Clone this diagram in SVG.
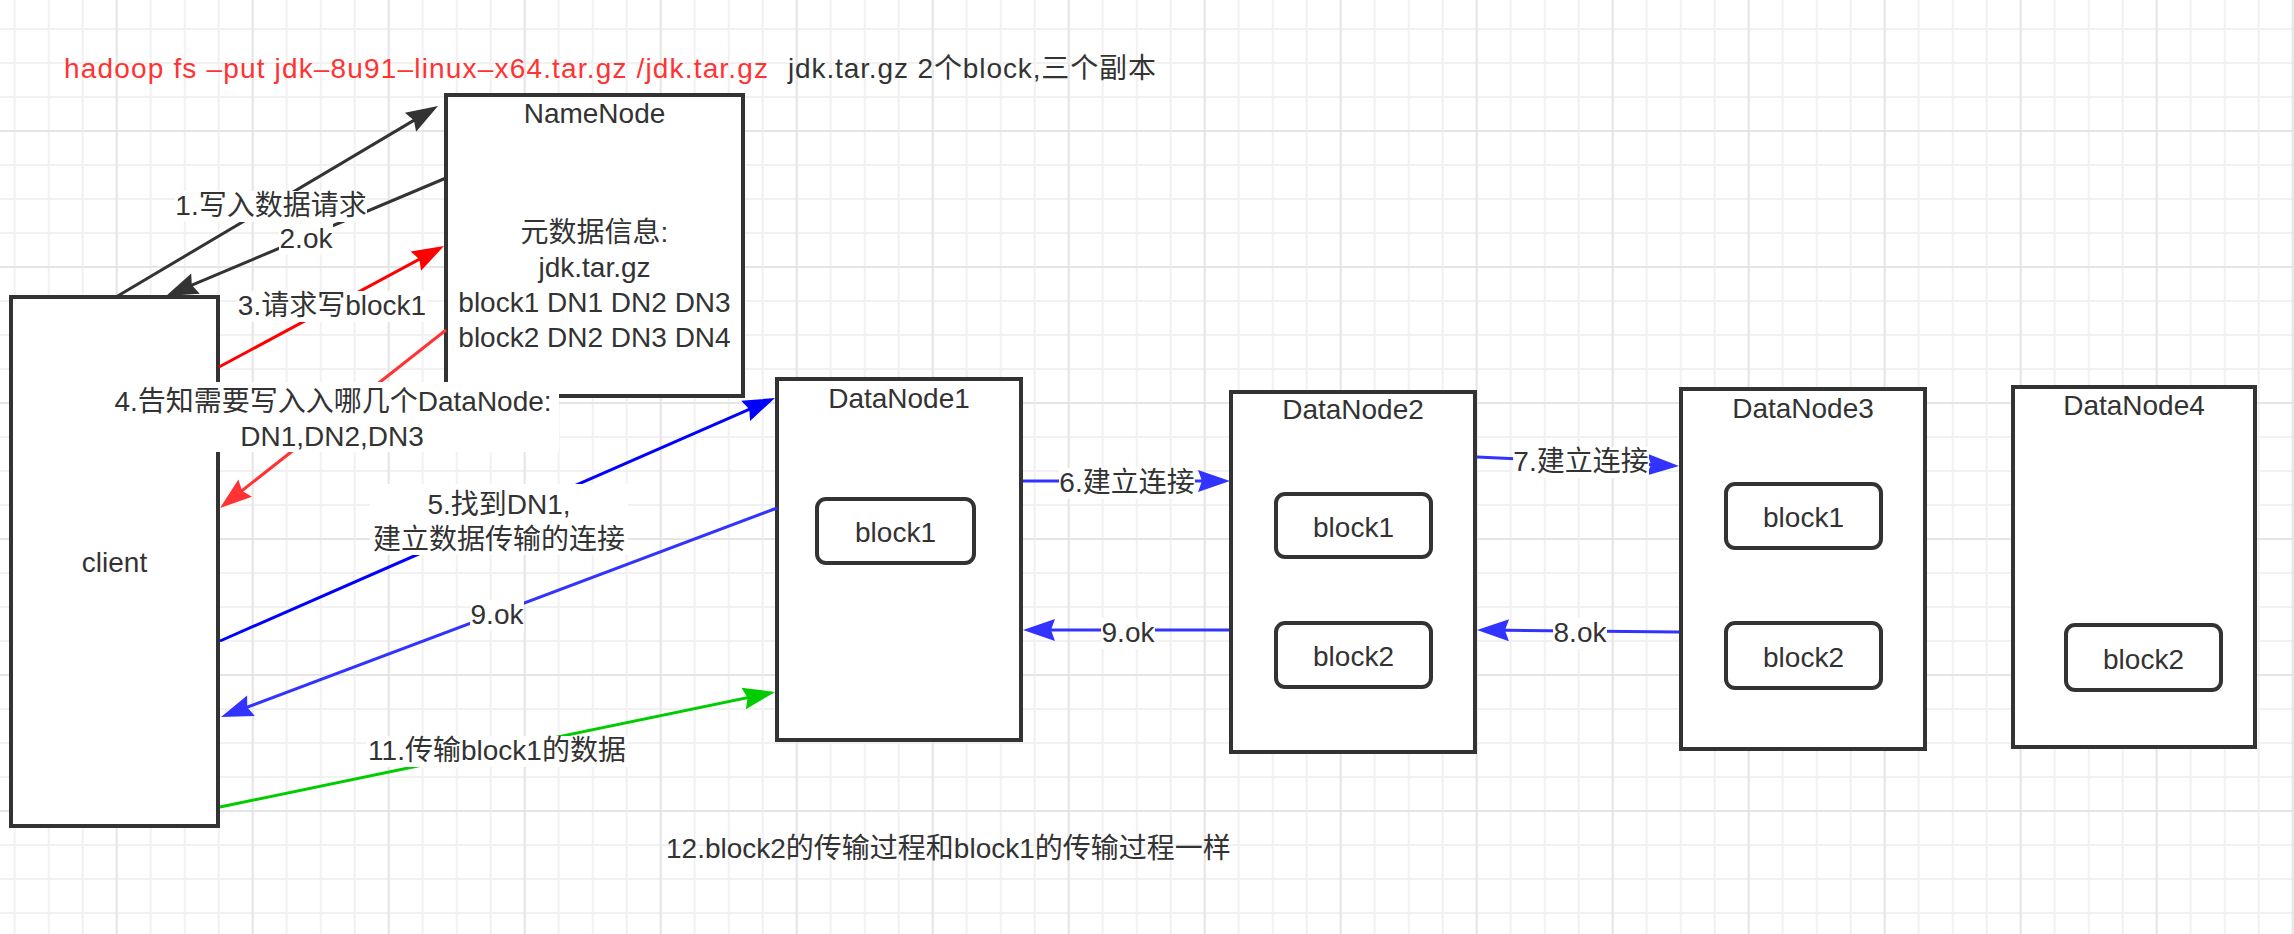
<svg xmlns="http://www.w3.org/2000/svg" width="2294" height="934" viewBox="0 0 2294 934">
<defs>
<style>
.node{fill:#fff;stroke:#333;stroke-width:4}
.blk{fill:#fff;stroke:#333;stroke-width:4}
.t{font-family:"Liberation Sans","Noto Sans CJK SC",sans-serif;font-size:28px;fill:#333;text-anchor:middle}
.ts{font-family:"Liberation Sans","Noto Sans CJK SC",sans-serif;font-size:28px;fill:#333}
.lbg{fill:#fff}
.e{fill:none;stroke-width:3}
</style>
<pattern id="minor" patternUnits="userSpaceOnUse" x="-2.3" y="12" width="34" height="34">
<path d="M17,0V34M0,17H34" stroke="#f1f1f1" stroke-width="2" fill="none"/>
</pattern>
<pattern id="major" patternUnits="userSpaceOnUse" x="48.7" y="63" width="136" height="136">
<path d="M68,0V136M0,68H136" stroke="#e6e6e6" stroke-width="2" fill="none"/>
</pattern>
<marker id="aK" markerUnits="userSpaceOnUse" viewBox="-24 -12 36 24" markerWidth="36" markerHeight="24" refX="0" refY="0" orient="auto"><path d="M10,0L-22,-11L-18,0L-22,11Z" fill="#333333"/></marker>
<marker id="aR" markerUnits="userSpaceOnUse" viewBox="-24 -12 36 24" markerWidth="36" markerHeight="24" refX="0" refY="0" orient="auto"><path d="M10,0L-22,-11L-18,0L-22,11Z" fill="#FF0000"/></marker>
<marker id="aR2" markerUnits="userSpaceOnUse" viewBox="-24 -12 36 24" markerWidth="36" markerHeight="24" refX="0" refY="0" orient="auto"><path d="M10,0L-22,-11L-18,0L-22,11Z" fill="#FF3333"/></marker>
<marker id="aB" markerUnits="userSpaceOnUse" viewBox="-24 -12 36 24" markerWidth="36" markerHeight="24" refX="0" refY="0" orient="auto"><path d="M10,0L-22,-11L-18,0L-22,11Z" fill="#0000FF"/></marker>
<marker id="aB2" markerUnits="userSpaceOnUse" viewBox="-24 -12 36 24" markerWidth="36" markerHeight="24" refX="0" refY="0" orient="auto"><path d="M10,0L-22,-11L-18,0L-22,11Z" fill="#3333FF"/></marker>
<marker id="aG" markerUnits="userSpaceOnUse" viewBox="-24 -12 36 24" markerWidth="36" markerHeight="24" refX="0" refY="0" orient="auto"><path d="M10,0L-22,-11L-18,0L-22,11Z" fill="#00CC00"/></marker>
</defs>
<rect width="2294" height="934" fill="#fff"/>
<rect width="2294" height="934" fill="url(#minor)"/>
<rect width="2294" height="934" fill="url(#major)"/>

<g id="title">
<text class="ts" x="64" y="78" style="fill:#FF3333" textLength="704" lengthAdjust="spacing">hadoop fs –put jdk–8u91–linux–x64.tar.gz /jdk.tar.gz</text>
<text class="ts" x="788" y="78" textLength="368" lengthAdjust="spacing">jdk.tar.gz 2个block,三个副本</text>
</g>

<g id="client">
<rect class="node" x="11" y="297" width="207" height="529"/>
<text class="t" x="114.5" y="572">client</text>
</g>

<g id="namenode">
<rect class="node" x="446" y="95" width="297" height="301"/>
<text class="t" x="594.5" y="123">NameNode</text>
<text class="t" x="594.5" y="242">元数据信息:</text>
<text class="t" x="594.5" y="277">jdk.tar.gz</text>
<text class="t" x="594.5" y="312">block1 DN1 DN2 DN3</text>
<text class="t" x="594.5" y="347">block2 DN2 DN3 DN4</text>
</g>

<g id="datanode1">
<rect class="node" x="777" y="379" width="244" height="361"/>
<text class="t" x="899" y="408">DataNode1</text>
<rect class="blk" x="817" y="499" width="157" height="64" rx="9"/>
<text class="t" x="895.5" y="542">block1</text>
</g>

<g id="datanode2">
<rect class="node" x="1231" y="392" width="244" height="360"/>
<text class="t" x="1353" y="419">DataNode2</text>
<rect class="blk" x="1276" y="494" width="155" height="63" rx="9"/>
<text class="t" x="1353.5" y="537">block1</text>
<rect class="blk" x="1276" y="623" width="155" height="64" rx="9"/>
<text class="t" x="1353.5" y="666">block2</text>
</g>

<g id="datanode3">
<rect class="node" x="1681" y="389" width="244" height="360"/>
<text class="t" x="1803" y="418">DataNode3</text>
<rect class="blk" x="1726" y="484" width="155" height="64" rx="9"/>
<text class="t" x="1803.5" y="527">block1</text>
<rect class="blk" x="1726" y="623" width="155" height="65" rx="9"/>
<text class="t" x="1803.5" y="667">block2</text>
</g>

<g id="datanode4">
<rect class="node" x="2013" y="387" width="242" height="360"/>
<text class="t" x="2134" y="415">DataNode4</text>
<rect class="blk" x="2066" y="625" width="155" height="65" rx="9"/>
<text class="t" x="2143.5" y="669">block2</text>
</g>

<g id="connectors">
<line class="e" x1="116" y1="297" x2="429.4" y2="111.1" stroke="#333333" marker-end="url(#aK)"/>
<line class="e" x1="446" y1="178" x2="175.2" y2="292.1" stroke="#333333" marker-end="url(#aK)"/>
<line class="e" x1="219" y1="367" x2="435.2" y2="250.7" stroke="#FF0000" marker-end="url(#aR)"/>
<line class="e" x1="446" y1="330" x2="227.9" y2="501.8" stroke="#FF3333" marker-end="url(#aR2)"/>
<line class="e" x1="220" y1="641" x2="765.8" y2="402" stroke="#0000FF" marker-end="url(#aB)"/>
<line class="e" x1="777" y1="508" x2="230.4" y2="713.5" stroke="#3333FF" marker-end="url(#aB2)"/>
<line class="e" x1="220" y1="807" x2="765.2" y2="694" stroke="#00CC00" marker-end="url(#aG)"/>
<line class="e" x1="1023" y1="481" x2="1220" y2="481" stroke="#3333FF" marker-end="url(#aB2)"/>
<line class="e" x1="1229" y1="630" x2="1033" y2="630" stroke="#3333FF" marker-end="url(#aB2)"/>
<line class="e" x1="1477" y1="457" x2="1669" y2="465.6" stroke="#3333FF" marker-end="url(#aB2)"/>
<line class="e" x1="1679" y1="632" x2="1487" y2="630.1" stroke="#3333FF" marker-end="url(#aB2)"/>

<rect class="lbg" x="175" y="191" width="192" height="31"/>
<text class="t" x="271" y="215">1.写入数据请求</text>
<rect class="lbg" x="279" y="224" width="54" height="31"/>
<text class="t" x="306" y="248">2.ok</text>
<rect class="lbg" x="237" y="291" width="190" height="31"/>
<text class="t" x="332" y="315">3.请求写block1</text>
<rect class="lbg" x="102" y="382" width="457" height="70"/>
<text class="t" x="333" y="411">4.告知需要写入入哪几个DataNode:</text>
<text class="t" x="332" y="446">DN1,DN2,DN3</text>
<rect class="lbg" x="370" y="484" width="258" height="71"/>
<text class="t" x="499" y="514">5.找到DN1,</text>
<text class="t" x="499" y="549">建立数据传输的连接</text>
<rect class="lbg" x="470" y="600" width="54" height="31"/>
<text class="t" x="497" y="624">9.ok</text>
<rect class="lbg" x="366" y="736" width="262" height="31"/>
<text class="t" x="497" y="760">11.传输block1的数据</text>
<rect class="lbg" x="1059" y="468" width="136" height="31"/>
<text class="t" x="1127" y="492">6.建立连接</text>
<rect class="lbg" x="1101" y="618" width="54" height="31"/>
<text class="t" x="1128" y="642">9.ok</text>
<rect class="lbg" x="1513" y="447" width="136" height="31"/>
<text class="t" x="1581" y="471">7.建立连接</text>
<rect class="lbg" x="1553" y="618" width="54" height="31"/>
<text class="t" x="1580" y="642">8.ok</text>
</g>

<g id="note">
<text class="ts" x="666" y="858">12.block2的传输过程和block1的传输过程一样</text>
</g>
</svg>
